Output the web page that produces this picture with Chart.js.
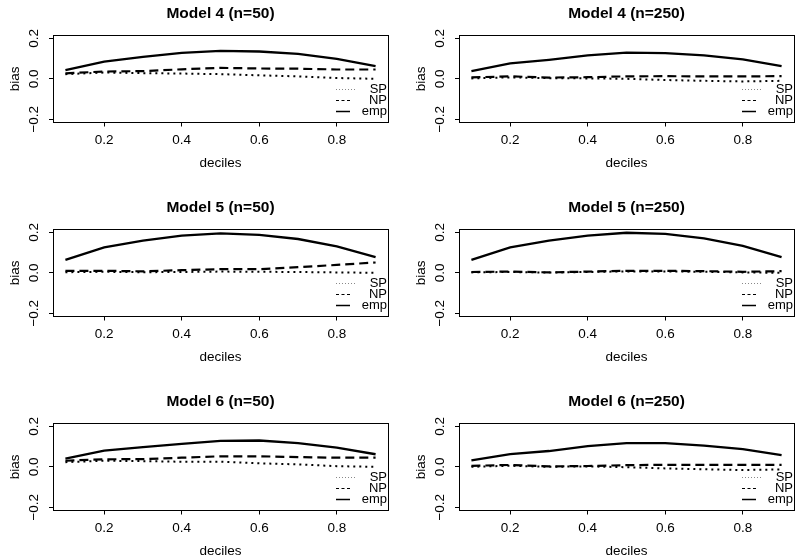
<!DOCTYPE html>
<html>
<head>
<meta charset="utf-8">
<script src="https://cdn.jsdelivr.net/npm/chart.js@4/dist/chart.umd.min.js"></script>
<style>
	body { margin: 0; background: #fff; width: 800px; height: 560px; overflow: hidden; position: relative; }
	.panel { position: absolute; width: 394px; height: 194px; }
</style>
</head>
<body>
<div class="panel" style="left:0;top:0"><canvas id="p0" width="394" height="194"></canvas></div>
<div class="panel" style="left:406px;top:0"><canvas id="p1" width="394" height="194"></canvas></div>
<div class="panel" style="left:0;top:194px"><canvas id="p2" width="394" height="194"></canvas></div>
<div class="panel" style="left:406px;top:194px"><canvas id="p3" width="394" height="194"></canvas></div>
<div class="panel" style="left:0;top:388px"><canvas id="p4" width="394" height="194"></canvas></div>
<div class="panel" style="left:406px;top:388px"><canvas id="p5" width="394" height="194"></canvas></div>
<script>
const deciles = [0.1, 0.2, 0.3, 0.4, 0.5, 0.6, 0.7, 0.8, 0.9];
const xTicks = [0.2, 0.4, 0.6, 0.8];
const yTicks = [-0.2, -0.1, 0, 0.1, 0.2];
const seriesNames = ['SP', 'NP', 'emp'];
const titles = ['Model 4 (n=50)', 'Model 4 (n=250)', 'Model 5 (n=50)', 'Model 5 (n=250)', 'Model 6 (n=50)', 'Model 6 (n=250)'];

// Model 4
const sp4a = [0.023, 0.031, 0.028, 0.026, 0.023, 0.017, 0.012, 0.004, 0.000];
const np4a = [0.027, 0.036, 0.038, 0.047, 0.054, 0.051, 0.050, 0.046, 0.046];
const emp4a = [0.043, 0.085, 0.108, 0.128, 0.138, 0.135, 0.123, 0.099, 0.063];
const sp4b = [0.002, 0.007, 0.003, 0.002, 0.000, -0.006, -0.010, -0.013, -0.010];
const np4b = [0.007, 0.012, 0.006, 0.008, 0.012, 0.013, 0.012, 0.012, 0.013];
const emp4b = [0.038, 0.076, 0.094, 0.116, 0.129, 0.127, 0.116, 0.096, 0.063];
// Model 5
const sp5a = [0.003, 0.005, 0.003, 0.004, 0.006, 0.005, 0.004, 0.002, 0.000];
const np5a = [0.010, 0.010, 0.007, 0.013, 0.018, 0.018, 0.028, 0.039, 0.051];
const emp5a = [0.064, 0.126, 0.159, 0.184, 0.195, 0.187, 0.167, 0.131, 0.077];
const sp5b = [0.002, 0.004, 0.001, 0.004, 0.007, 0.007, 0.005, 0.002, 0.000];
const np5b = [0.004, 0.006, 0.002, 0.006, 0.010, 0.010, 0.008, 0.005, 0.008];
const emp5b = [0.064, 0.126, 0.159, 0.184, 0.198, 0.192, 0.170, 0.133, 0.077];
// Model 6
const sp6a = [0.023, 0.030, 0.028, 0.025, 0.025, 0.017, 0.012, 0.003, 0.000];
const np6a = [0.030, 0.037, 0.038, 0.045, 0.052, 0.052, 0.048, 0.045, 0.045];
const emp6a = [0.040, 0.080, 0.097, 0.113, 0.128, 0.130, 0.117, 0.095, 0.062];
const sp6b = [0.000, 0.005, 0.000, 0.002, -0.002, -0.008, -0.012, -0.016, -0.013];
const np6b = [0.005, 0.009, 0.002, 0.004, 0.008, 0.010, 0.010, 0.010, 0.010];
const emp6b = [0.032, 0.063, 0.078, 0.102, 0.117, 0.117, 0.105, 0.087, 0.058];

const panels = [
	[sp4a, np4a, emp4a], [sp4b, np4b, emp4b],
	[sp5a, np5a, emp5a], [sp5b, np5b, emp5b],
	[sp6a, np6a, emp6a], [sp6b, np6b, emp6b]
];

const FONT = '"Liberation Sans", Arial, sans-serif';
const dashes = [[2, 4], [9, 5], []];
const widths = [2, 2.2, 2.3];

// frame around plot region
const boxPlugin = {
	id: 'box',
	afterDraw(chart) {
		const a = chart.chartArea;
		const ctx = chart.ctx;
		ctx.save();
		ctx.strokeStyle = '#000';
		ctx.lineWidth = 1;
		ctx.strokeRect(Math.round(a.left) + 0.5, Math.round(a.top) + 0.5, Math.round(a.right - a.left), Math.round(a.bottom - a.top));
		ctx.restore();
	}
};

// R style legend, no frame, bottom right inside the plot
const rLegend = {
	id: 'rLegend',
	afterDatasetsDraw(chart) {
		const a = chart.chartArea;
		const ctx = chart.ctx;
		const sets = chart.data.datasets;
		ctx.save();
		ctx.font = '13px ' + FONT;
		ctx.textAlign = 'right';
		ctx.textBaseline = 'middle';
		sets.forEach((ds, i) => {
			const y = a.bottom - 11 - (sets.length - 1 - i) * 11;
			ctx.strokeStyle = i === 0 ? '#888' : '#000';
			ctx.lineWidth = i === 2 ? 1.5 : 1.2;
			ctx.setLineDash(i === 0 ? [1, 2] : i === 1 ? [3, 2.5] : []);
			ctx.beginPath();
			ctx.moveTo(a.right - 52, y);
			ctx.lineTo(a.right - (i === 0 ? 32 : 38), y);
			ctx.stroke();
			ctx.setLineDash([]);
			ctx.fillStyle = '#000';
			ctx.fillText(ds.label, a.right - 1, y);
		});
		ctx.restore();
	}
};

function yLabel(v) {
	if (Math.abs(v) > 0.05 && Math.abs(v) < 0.15) return '';
	if (v === 0) return '0.0';
	return (v < 0 ? '\u2212' : '') + Math.abs(v).toFixed(1);
}

window.addEventListener('DOMContentLoaded', function() {
	panels.forEach((series, p) => {
		const datasets = series.map((vals, i) => ({
			label: seriesNames[i],
			data: deciles.map((d, k) => ({ x: d, y: vals[k] })),
			borderColor: '#000',
			borderWidth: widths[i],
			borderDash: dashes[i],
			pointRadius: 0,
			tension: 0,
			fill: false
		}));

		new Chart(document.getElementById('p' + p).getContext('2d'), {
			type: 'line',
			data: { datasets: datasets },
			plugins: [boxPlugin, rLegend],
			options: {
				responsive: false,
				animation: false,
				devicePixelRatio: 1,
				layout: { padding: { left: 0, right: 6, top: 0, bottom: 21.5 } },
				plugins: {
					legend: { display: false },
					tooltip: { enabled: false },
					title: {
						display: true,
						text: titles[p],
						fullSize: false,
						color: '#000',
						font: { family: FONT, size: 15.5, weight: 'bold' },
						padding: { top: 4.5, bottom: 12 }
					}
				},
				scales: {
					x: {
						type: 'linear',
						min: 0.068,
						max: 0.932,
						afterBuildTicks: s => { s.ticks = xTicks.map(v => ({ value: v })); },
						afterFit: s => { s.height = 50; },
						border: { display: false },
						grid: { drawOnChartArea: false, drawTicks: true, tickLength: 4, color: '#000', tickColor: '#000' },
						ticks: {
							color: '#000',
							padding: 6,
							maxRotation: 0,
							font: { family: FONT, size: 13.5 },
							callback: v => v.toFixed(1)
						},
						title: {
							display: true,
							text: 'deciles',
							color: '#000',
							font: { family: FONT, size: 13.5 },
							padding: { top: 0, bottom: 1 }
						}
					},
					y: {
						type: 'linear',
						min: -0.216,
						max: 0.216,
						afterBuildTicks: s => { s.ticks = yTicks.map(v => ({ value: v })); },
						afterFit: s => { s.width = 53; },
						border: { display: false },
						grid: { drawOnChartArea: false, drawTicks: true, tickLength: 4, color: '#000', tickColor: '#000' },
						ticks: {
							color: '#000',
							padding: 1,
							minRotation: 90,
							maxRotation: 90,
							crossAlign: 'center',
							font: { family: FONT, size: 13.5 },
							callback: yLabel
						},
						title: {
							display: true,
							text: 'bias',
							color: '#000',
							font: { family: FONT, size: 13.5 },
							padding: { top: 7, bottom: 0 }
						}
					}
				}
			}
		});
	});
});
</script>
</body>
</html>
